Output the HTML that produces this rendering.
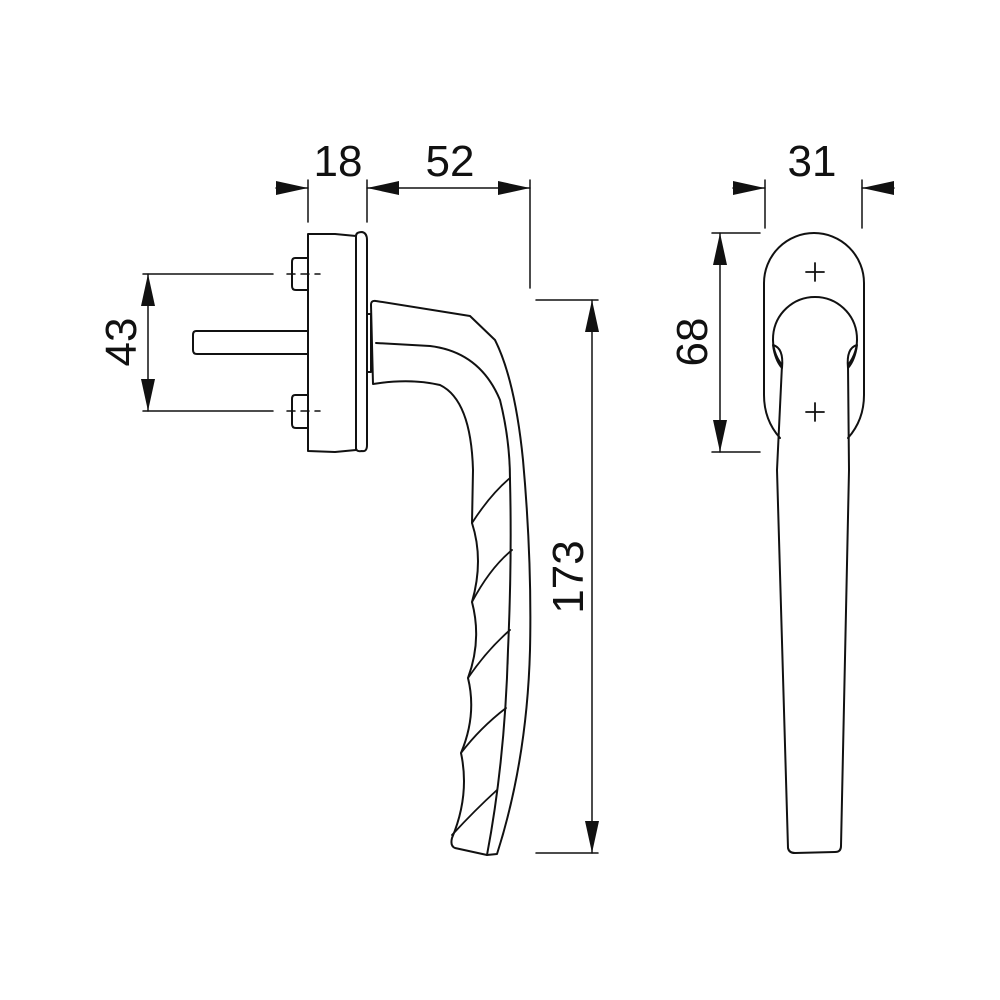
<!DOCTYPE html>
<html><head><style>html,body{margin:0;padding:0;background:#fff}svg{display:block}</style></head><body>
<svg width="1000" height="1000" viewBox="0 0 1000 1000" xmlns="http://www.w3.org/2000/svg">
<defs>
<marker id="a" viewBox="0 0 32 14" refX="32" refY="7" markerWidth="32" markerHeight="14" markerUnits="userSpaceOnUse" orient="auto-start-reverse"><path d="M0,0 L32,7 L0,14 Z" fill="#111"/></marker>
</defs>
<g fill="none" stroke="#111" stroke-width="2" stroke-linejoin="round" stroke-linecap="round">
<line x1="308" y1="180" x2="308" y2="222" stroke-width="1.5"/>
<line x1="367" y1="180" x2="367" y2="222" stroke-width="1.5"/>
<line x1="530" y1="180" x2="530" y2="288" stroke-width="1.5"/>
<line x1="276" y1="188" x2="308" y2="188" marker-end="url(#a)" stroke-width="1.5"/>
<line x1="367" y1="188" x2="530" y2="188" marker-start="url(#a)" marker-end="url(#a)" stroke-width="1.5"/>
<line x1="143" y1="274" x2="273" y2="274" stroke-width="1.5"/>
<line x1="143" y1="411" x2="273" y2="411" stroke-width="1.5"/>
<line x1="148" y1="274" x2="148" y2="411" marker-start="url(#a)" marker-end="url(#a)" stroke-width="1.5"/>
<line x1="536" y1="300" x2="598" y2="300" stroke-width="1.5"/>
<line x1="536" y1="853" x2="598" y2="853" stroke-width="1.5"/>
<line x1="592" y1="300" x2="592" y2="853" marker-start="url(#a)" marker-end="url(#a)" stroke-width="1.5"/>
<path d="M308,234 L308,451 L335,452 L356,450 L356,236 L335,234 Z"/>
<path d="M356,236 Q356,232 362,232 Q367,233 367,240 L367,445 Q367,452 362,451 Q356,452 356,448"/>
<path d="M308,258 L295,258 Q292,258 292,262 L292,286 Q292,290 296,290 L308,290"/>
<path d="M308,395 L295,395 Q292,395 292,399 L292,424 Q292,428 296,428 L308,428"/>
<path d="M308,331 L196,331 Q193,331 193,335 L193,350 Q193,354 197,354 L308,354"/>
<path d="M287,274 H320 M287,411 H320" stroke-width="1.5" stroke-dasharray="8,6"/>
<path d="M367,314 L371,314 L371,372 L367,372"/>
<path d="M371,305 Q371,300 376,301 L470,316 L495,340 Q515,380 523,460 Q532,560 530,650 Q527,760 497,854 L487,855 L455,848 Q450,846 452,838 Q470,795 461,753 Q477,715 468,678 Q482,640 472,602 Q484,560 472,523 L473,470 Q471,400 440,385 Q410,378 373,384 Z"/>
<path d="M376,343 L430,346 Q480,352 500,400 Q510,440 510,480 Q512,560 508,650 Q505,760 487,855"/>
<path d="M472,523 Q490,495 510,478 M472,602 Q490,568 512,550 M468,678 Q487,650 510,630 M461,753 Q480,728 506,708 M452,835 Q475,810 497,790" stroke-width="1.8"/>
<line x1="765" y1="180" x2="765" y2="228" stroke-width="1.5"/>
<line x1="862" y1="180" x2="862" y2="228" stroke-width="1.5"/>
<line x1="733" y1="188" x2="765" y2="188" marker-end="url(#a)" stroke-width="1.5"/>
<line x1="894" y1="188" x2="862" y2="188" marker-end="url(#a)" stroke-width="1.5"/>
<line x1="712" y1="233" x2="760" y2="233" stroke-width="1.5"/>
<line x1="712" y1="452" x2="760" y2="452" stroke-width="1.5"/>
<line x1="720" y1="233" x2="720" y2="452" marker-start="url(#a)" marker-end="url(#a)" stroke-width="1.5"/>
<path d="M780,438 Q764,420 764,395 L764,283 A50,50 0 0 1 864,283 L864,395 Q864,420 848,438"/>
<path d="M806,272 H824 M815,263 V281 M806,412 H824 M815,403 V421" stroke-width="1.8"/>
<path d="M782,365 A42,42 0 1 1 848,365"/>
<path d="M773,345 Q784,348 782,368 Q775,360 773,345 M857,345 Q846,348 848,368 Q855,360 857,345"/>
<path d="M782,365 L777,470 L788,848 Q789,853 795,853 L835,852 Q841,852 841,846 L849,470 L848,365"/>
</g>
<g font-family="Liberation Sans, sans-serif" font-size="44" fill="#111" text-anchor="middle">
<text x="338" y="176">18</text>
<text x="450" y="176">52</text>
<text x="812" y="176">31</text>
<text transform="translate(136,342) rotate(-90)">43</text>
<text transform="translate(583,577) rotate(-90)">173</text>
<text transform="translate(707,342) rotate(-90)">68</text>
</g>
</svg>
</body></html>
